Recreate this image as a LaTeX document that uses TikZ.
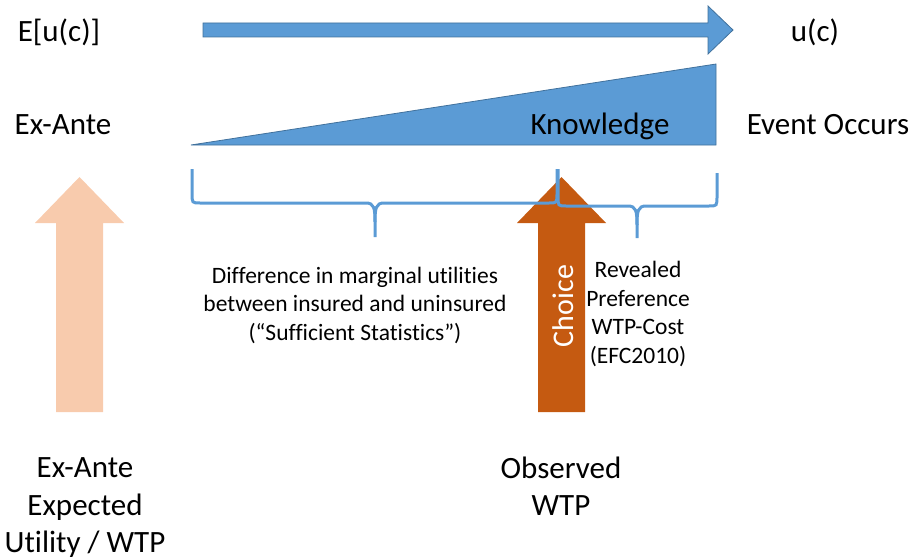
\documentclass[tikz,border=0pt]{standalone}
\usepackage{fontspec}
\setmainfont{Carlito}[Ligatures=NoCommon]
\definecolor{accblue}{HTML}{5B9BD5}
\definecolor{blueedge}{HTML}{41719C}
\definecolor{darkorange}{HTML}{C55A11}
\definecolor{lightorange}{HTML}{F8CBAD}
\begin{document}
\begin{tikzpicture}[x=1pt,y=-1pt,
  bigtxt/.style={font=\fontsize{31}{37.5}\selectfont, align=center, inner sep=0pt},
  smalltxt/.style={font=\fontsize{23.5}{28.5}\selectfont, align=center, inner sep=0pt},
  bluebody/.style={fill=accblue, draw=blueedge, line width=0.8pt, line join=miter},
  bracestroke/.style={draw=accblue, line width=3pt, line cap=butt}]
\useasboundingbox (0,0) rectangle (915,559);

% top timeline arrow
\filldraw[bluebody] (203,23) -- (708,23) -- (708,6) -- (733,30) -- (708,54) -- (708,37) -- (203,37) -- cycle;
% knowledge wedge
\filldraw[bluebody] (191,145) -- (716,64) -- (716,145) -- cycle;

% light orange arrow
\fill[lightorange] (56,412) -- (56,223) -- (35,223) -- (79.5,177) -- (124,223) -- (103,223) -- (103,412) -- cycle;
% choice arrow
\fill[darkorange] (538,412) -- (538,223) -- (517,223) -- (561.5,177) -- (606,223) -- (585,223) -- (585,412) -- cycle;
\node[bigtxt, text=white, rotate=90, font=\fontsize{30}{36}\selectfont] (choice) at (563,306) {Choice};

% braces
\draw[bracestroke] (192,169) -- (192,193) .. controls (192,203) .. (200,203) -- (366,203) .. controls (374,203) and (375,208) .. (375,222) -- (375,237);
\draw[bracestroke] (375,222) .. controls (375,208) and (376,203) .. (384,203) -- (549,203) .. controls (557,203) .. (557,193) -- (557,169);
\draw[bracestroke] (558,169) -- (558,196) .. controls (558,206) .. (566,206) -- (628,206) .. controls (636,206) and (637,211) .. (637,225) -- (637,238);
\draw[bracestroke] (637,225) .. controls (637,211) and (638,206) .. (646,206) -- (709,206) .. controls (717,206) .. (717,196) -- (717,173);

% labels
\node[bigtxt] (eu) at (59,32) {E[u(c)]};
\node[bigtxt] (uc) at (815,32) {u(c)};
\node[bigtxt] (exante) at (63,125) {Ex-Ante};
\node[bigtxt] (know) at (600,126) {Knowledge};
\node[bigtxt] (event) at (828,125) {Event Occurs};
\node[smalltxt] (diff) at (355,305) {Difference in marginal utilities\\between insured and uninsured\\(“Sufficient Statistics”)};
\node[smalltxt] (reveal) at (638,314) {Revealed\\Preference\\WTP-Cost\\(EFC2010)};
\node[bigtxt] (exp) at (85,508) {Ex-Ante\\Expected\\Utility / WTP};
\node[bigtxt] (obs) at (561,486) {Observed\\WTP};
\end{tikzpicture}
\end{document}
